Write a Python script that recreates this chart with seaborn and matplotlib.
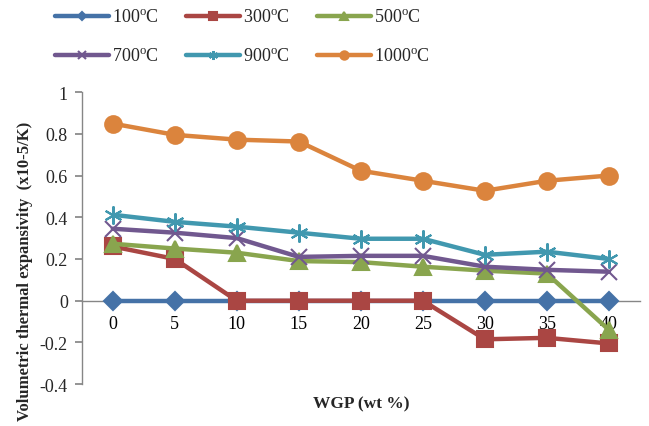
import matplotlib

matplotlib.use("Agg")
import matplotlib.pyplot as plt
import pandas as pd
import seaborn as sns

# WGP content (wt %) and volumetric thermal expansivity (x10-5/K) per temperature
wgp = ["0", "5", "10", "15", "20", "25", "30", "35", "40"]
t100 = [0, 0, 0, 0, 0, 0, 0, 0, 0]
t300 = [0.26, 0.20, 0, 0, 0, 0, -0.185, -0.178, -0.205]
t500 = [0.273, 0.25, 0.23, 0.19, 0.185, 0.163, 0.144, 0.13, -0.14]
t700 = [0.345, 0.326, 0.30, 0.21, 0.215, 0.215, 0.163, 0.148, 0.139]
t900 = [0.412, 0.378, 0.355, 0.326, 0.297, 0.297, 0.22, 0.235, 0.20]
t1000 = [0.849, 0.795, 0.772, 0.763, 0.623, 0.575, 0.527, 0.575, 0.60]

labels = ["100$^{\\mathrm{o}}$C", "300$^{\\mathrm{o}}$C", "500$^{\\mathrm{o}}$C",
          "700$^{\\mathrm{o}}$C", "900$^{\\mathrm{o}}$C", "1000$^{\\mathrm{o}}$C"]
series = [t100, t300, t500, t700, t900, t1000]
colors = ["#4572A7", "#AA4643", "#89A54E", "#71588F", "#4198AF", "#DB843D"]
markers = ["D", "s", "^", "x", (6, 2, 0), "o"]
msizes = [9, 11, 11, 11, 13, 12]

sns.set_theme(style="white")
plt.rcParams["font.family"] = ["Liberation Serif", "DejaVu Serif"]
plt.rcParams["mathtext.fontset"] = "custom"
plt.rcParams["mathtext.rm"] = "Liberation Serif"

fig = plt.figure(figsize=(6.49, 4.27), dpi=100)
ax = fig.add_axes([0.126, 0.098, 0.86, 0.684])

pos = list(range(len(wgp)))
for vals, lab, c, m, ms in zip(series, labels, colors, markers, msizes):
    df = pd.DataFrame({"x": pos, "y": vals})
    sns.lineplot(data=df, x="x", y="y", ax=ax, color=c, lw=3.2, marker=m,
                 markersize=ms, markeredgecolor=c, markeredgewidth=1.5,
                 label=lab, legend=False)

ax.set_xlim(-0.5, len(wgp) - 0.5)
ax.set_ylim(-0.4, 1.0)
ax.set_yticks([-0.4, -0.2, 0, 0.2, 0.4, 0.6, 0.8, 1.0])
ax.set_yticklabels(["-0.4", "-0.2", "0", "0.2", "0.4", "0.6", "0.8", "1"])
ax.set_xticks(pos)
ax.set_xticklabels(wgp)
ax.set_xticks([p - 0.5 for p in pos] + [len(wgp) - 0.5], minor=True)

for s in ["top", "right"]:
    ax.spines[s].set_visible(False)
for s in ["left", "bottom"]:
    ax.spines[s].set_color("#868686")
    ax.spines[s].set_linewidth(1.0)
ax.spines["bottom"].set_position(("data", 0))
ax.spines["bottom"].set_zorder(0)

ax.tick_params(axis="x", which="major", length=0, labelsize=13, pad=10, colors="black")
ax.tick_params(axis="x", which="minor", length=4, direction="out", color="#868686")
ax.tick_params(axis="y", length=5, direction="out", color="#868686", labelsize=13, pad=5)
ax.tick_params(axis="y", left=True)

ax.set_xlabel("WGP (wt %)", fontsize=12.5, fontweight="bold", labelpad=0)
ax.xaxis.set_label_coords(0.5, -0.04)
ax.set_ylabel("Volumetric thermal expansivity  (x10-5/K)", fontsize=12,
              fontweight="bold")
ax.yaxis.set_label_coords(-0.088, 0.39)

# legend is filled row by row in the reference; matplotlib fills columns
handles, labs = ax.get_legend_handles_labels()
order = [0, 3, 1, 4, 2, 5]
fig.legend([handles[i] for i in order], [labs[i] for i in order], ncol=3,
           loc="upper left", bbox_to_anchor=(0.06, 1.015),
           frameon=False, fontsize=13, handlelength=3.0, handletextpad=0.15,
           columnspacing=1.5, labelspacing=1.2, markerscale=0.5)

fig.savefig("out.png", dpi=100)
